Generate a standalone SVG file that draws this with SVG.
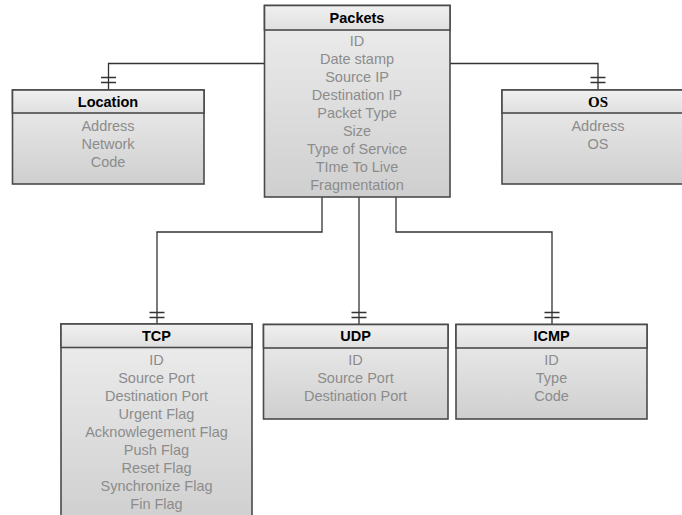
<svg xmlns="http://www.w3.org/2000/svg" width="682" height="515" viewBox="0 0 682 515">
<defs>
<linearGradient id="body" x1="0" y1="0" x2="0" y2="1">
<stop offset="0" stop-color="#eeeeee"/>
<stop offset="1" stop-color="#cfcfcf"/>
</linearGradient>
<linearGradient id="head" x1="0" y1="0" x2="0" y2="1">
<stop offset="0" stop-color="#f0f0f0"/>
<stop offset="1" stop-color="#e0e0e0"/>
</linearGradient>
</defs>
<style>
.box{fill:url(#body);stroke:#4a4a4a;stroke-width:1.6}
.hd{fill:url(#head);stroke:#4a4a4a;stroke-width:1.6}
.t{font-family:"Liberation Sans",Arial,sans-serif;font-size:14.5px;font-weight:bold;fill:#000;text-anchor:middle}
.ts{font-family:"Liberation Serif","Times New Roman",serif;font-size:15px;font-weight:bold;fill:#000;text-anchor:middle}
.a{font-family:"Liberation Sans",Arial,sans-serif;font-size:14.5px;fill:#8c8c8c;text-anchor:middle}
.c{fill:none;stroke:#333;stroke-width:1.3}
</style>
<rect width="682" height="515" fill="#fff"/>
<g id="connectors">
<path class="c" d="M264.5 63.5 H108.5 V90"/>
<path class="c" d="M101 77.5 H116 M101 82.5 H116"/>
<path class="c" d="M450 63.5 H598 V90"/>
<path class="c" d="M590.5 77.5 H605.5 M590.5 82.5 H605.5"/>
<path class="c" d="M322 197 V232 H157 V324"/>
<path class="c" d="M149.5 312.5 H164.5 M149.5 317.5 H164.5"/>
<path class="c" d="M359 197 V324"/>
<path class="c" d="M351.5 312.5 H366.5 M351.5 317.5 H366.5"/>
<path class="c" d="M396 197 V232 H552 V324"/>
<path class="c" d="M544.5 312.5 H559.5 M544.5 317.5 H559.5"/>
</g>
<g id="packets">
<rect class="box" x="264.5" y="5.5" width="185.5" height="191.5"/>
<rect class="hd" x="264.5" y="5.5" width="185.5" height="24.5"/>
<text class="t" x="357" y="23">Packets</text>
<text class="a" x="357" y="46">ID</text>
<text class="a" x="357" y="64">Date stamp</text>
<text class="a" x="357" y="82">Source IP</text>
<text class="a" x="357" y="100">Destination IP</text>
<text class="a" x="357" y="118">Packet Type</text>
<text class="a" x="357" y="136">Size</text>
<text class="a" x="357" y="154">Type of Service</text>
<text class="a" x="357" y="172">TIme To Live</text>
<text class="a" x="357" y="190">Fragmentation</text>
</g>
<g id="location">
<rect class="box" x="12.5" y="90" width="191.5" height="94"/>
<rect class="hd" x="12.5" y="90" width="191.5" height="23"/>
<text class="t" x="108" y="107">Location</text>
<text class="a" x="108" y="131">Address</text>
<text class="a" x="108" y="149">Network</text>
<text class="a" x="108" y="167">Code</text>
</g>
<g id="os">
<rect class="box" x="502" y="90" width="192" height="94"/>
<rect class="hd" x="502" y="90" width="192" height="23"/>
<text class="ts" x="598" y="107">OS</text>
<text class="a" x="598" y="131">Address</text>
<text class="a" x="598" y="149">OS</text>
</g>
<g id="tcp">
<rect class="box" x="61" y="324" width="191" height="200"/>
<rect class="hd" x="61" y="324" width="191" height="23.5"/>
<text class="t" x="156.5" y="340.5">TCP</text>
<text class="a" x="156.5" y="364.5">ID</text>
<text class="a" x="156.5" y="382.5">Source Port</text>
<text class="a" x="156.5" y="400.5">Destination Port</text>
<text class="a" x="156.5" y="418.5">Urgent Flag</text>
<text class="a" x="156.5" y="436.5">Acknowlegement Flag</text>
<text class="a" x="156.5" y="454.5">Push Flag</text>
<text class="a" x="156.5" y="472.5">Reset Flag</text>
<text class="a" x="156.5" y="490.5">Synchronize Flag</text>
<text class="a" x="156.5" y="508.5">Fin Flag</text>
</g>
<g id="udp">
<rect class="box" x="263.5" y="324.5" width="184.5" height="94.5"/>
<rect class="hd" x="263.5" y="324.5" width="184.5" height="23.5"/>
<text class="t" x="355.5" y="341">UDP</text>
<text class="a" x="355.5" y="365">ID</text>
<text class="a" x="355.5" y="383">Source Port</text>
<text class="a" x="355.5" y="401">Destination Port</text>
</g>
<g id="icmp">
<rect class="box" x="456" y="324.5" width="191" height="94.5"/>
<rect class="hd" x="456" y="324.5" width="191" height="23.5"/>
<text class="t" x="551.5" y="341">ICMP</text>
<text class="a" x="551.5" y="365">ID</text>
<text class="a" x="551.5" y="383">Type</text>
<text class="a" x="551.5" y="401">Code</text>
</g>
</svg>
